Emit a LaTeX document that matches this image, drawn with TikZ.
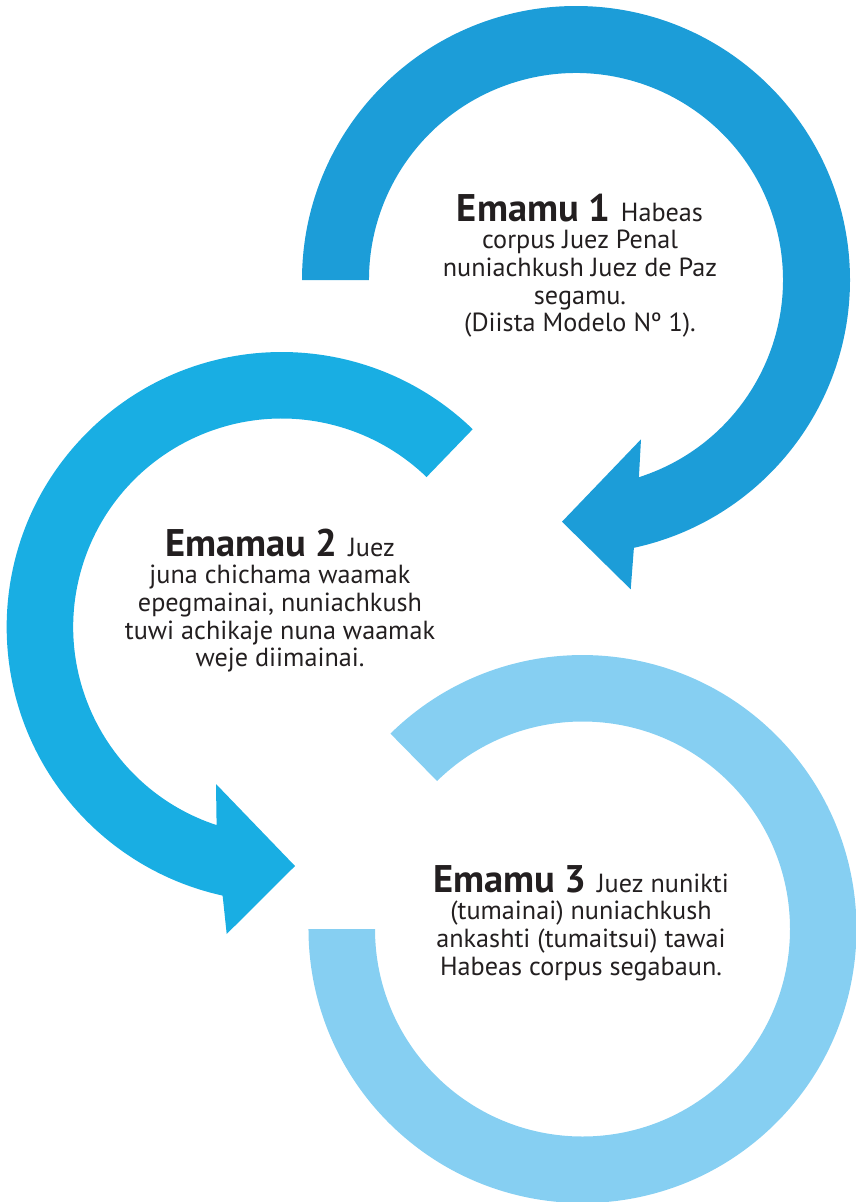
\documentclass[tikz,border=0pt]{standalone}
\usepackage{fontspec}
\setmainfont{PT Sans}

\definecolor{ringone}{RGB}{28,157,216}
\definecolor{ringtwo}{RGB}{25,174,227}
\definecolor{ringthree}{RGB}{134,207,242}
\definecolor{inktext}{RGB}{35,31,32}

\newcommand{\stephead}[1]{{\fontsize{38.5}{38.5}\selectfont\bfseries #1}\hspace{0.4em}}

\tikzset{
	steptext/.style={align=center, text=inktext, inner sep=0pt, anchor=base,
		font=\fontsize{26.2}{27.6}\selectfont},
}

\begin{document}
\begin{tikzpicture}[x=1pt, y=1pt, yscale=-1]
		\clip (0,0) rectangle (856,1202);

		\fill[ringone] (302,280) arc[start angle=180, end angle=437.8, radius=274]
			-- (630.7,589.3) -- (562,521.7) -- (641,439.3) -- (638.9,477.2)
			arc[start angle=432.3, end angle=180, radius=207] -- cycle;
		\fill[ringtwo] (472.7,429.2) arc[start angle=-46, end angle=-257.6, radius=275]
			-- (226.7,934) -- (295,866) -- (216,784) -- (216.6,825.1)
			arc[start angle=-251.8, end angle=-46, radius=208.5] -- cycle;
		\fill[ringthree] (390.45,733.6) arc[start angle=225.5, end angle=540, radius=274]
			-- (375,929) arc[start angle=540, end angle=225.5, radius=207.5] -- cycle;

		\node[steptext] (stepone) at (580,331.7) {\stephead{Emamu 1}Habeas\\corpus Juez Penal\\nuniachkush Juez de Paz\\segamu.\\(Diista Modelo Nº 1).};
		\node[steptext] (steptwo) at (280,666.7) {\stephead{Emamau 2}Juez\\juna chichama waamak\\epegmainai, nuniachkush\\tuwi achikaje nuna waamak\\weje diimainai.};
		\node[steptext] (stepthree) at (581,975) {\stephead{Emamu 3}Juez nunikti\\(tumainai) nuniachkush\\ankashti (tumaitsui) tawai\\Habeas corpus segabaun.};
\end{tikzpicture}
\end{document}
